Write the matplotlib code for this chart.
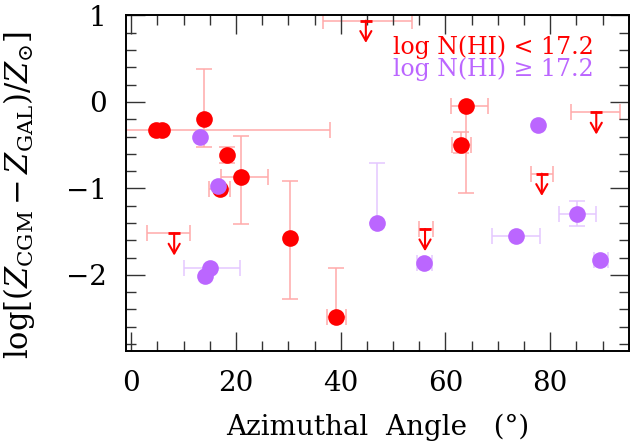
import numpy as np
import matplotlib
matplotlib.use("Agg")
import matplotlib.pyplot as plt

nan = np.nan

# log N(HI) < 17.2, detections
rojo_x = [4.7, 5.8, 13.9, 18.2, 21.0, 17.0, 30.4, 39.1, 63.9, 63.0]
rojo_y = [-0.33, -0.33, -0.20, -0.61, -0.87, -1.01, -1.57, -2.49, -0.05, -0.50]
rojo_x_lo = [nan, -2.0, nan, nan, 17.2, 14.9, nan, 37.4, 61.0, 61.2]
rojo_x_hi = [nan, 38.0, nan, nan, 26.2, 18.8, nan, 41.0, 68.1, 64.8]
rojo_y_lo = [nan, nan, -0.52, -0.71, -1.41, nan, -2.28, -2.49, -1.05, -0.585]
rojo_y_hi = [nan, nan, 0.38, -0.52, -0.39, nan, -0.915, -1.92, -0.05, -0.343]

# log N(HI) < 17.2, upper limits
lim_x = [8.2, 44.8, 56.1, 78.4, 88.8]
lim_y = [-1.52, 0.94, -1.47, -0.83, -0.12]
lim_x_lo = [3.1, 36.7, 54.9, 76.4, 83.9]
lim_x_hi = [11.2, 53.7, 57.7, 80.5, 93.4]

# log N(HI) >= 17.2
lila_x = [13.2, 16.6, 14.0, 15.0, 46.9, 55.9, 77.6, 73.4, 85.1, 89.6]
lila_y = [-0.40, -0.97, -2.01, -1.92, -1.40, -1.86, -0.27, -1.55, -1.30, -1.83]
lila_x_lo = [nan, nan, nan, 10.0, nan, 54.6, nan, 68.8, 81.7, 88.3]
lila_x_hi = [nan, nan, nan, 20.8, nan, 57.5, nan, 78.0, 88.8, 91.0]
lila_y_lo = [nan, nan, nan, nan, -1.40, nan, nan, nan, -1.44, nan]
lila_y_hi = [nan, nan, nan, nan, -0.71, nan, nan, nan, -1.14, nan]

ROJO = '#ff0000'
ROJO_CLARO = '#ffaaaa'
LILA = '#bb66ff'
LILA_CLARO = '#e4c8ff'


def errores(v, lo, hi):
    v = np.array(v, dtype=float)
    return np.vstack([v - np.array(lo, dtype=float), np.array(hi, dtype=float) - v])


plt.rcParams['font.family'] = 'DejaVu Serif'
plt.rcParams['mathtext.fontset'] = 'dejavuserif'
plt.rcParams['axes.unicode_minus'] = True

fig = plt.figure(figsize=(6.3, 4.42), dpi=100)
ax = fig.add_axes([0.200, 0.206, 0.798, 0.759])

estilo_err = dict(fmt='none', capsize=6, elinewidth=1.1, capthick=1.1, zorder=1)

ax.errorbar(rojo_x, rojo_y, xerr=errores(rojo_x, rojo_x_lo, rojo_x_hi),
            yerr=errores(rojo_y, rojo_y_lo, rojo_y_hi), ecolor=ROJO_CLARO, **estilo_err)
ax.errorbar(lim_x, lim_y, xerr=errores(lim_x, lim_x_lo, lim_x_hi),
            ecolor=ROJO_CLARO, **estilo_err)
ax.errorbar(lila_x, lila_y, xerr=errores(lila_x, lila_x_lo, lila_x_hi),
            yerr=errores(lila_y, lila_y_lo, lila_y_hi), ecolor=LILA_CLARO, **estilo_err)

ax.plot(rojo_x, rojo_y, 'o', ms=12, color=ROJO, mec='none', zorder=3)
ax.plot(lila_x, lila_y, 'o', ms=12, color=LILA, mec='none', zorder=4)

# limites superiores: barrita + flecha hacia abajo
ax.plot(lim_x, lim_y, '_', ms=9, mew=2, color=ROJO, zorder=3)
for xx, yy in zip(lim_x, lim_y):
    ax.annotate('', xy=(xx, yy), xycoords='data', xytext=(0, -16), textcoords='offset points',
                arrowprops=dict(arrowstyle='<-,head_length=0.7,head_width=0.4',
                                color=ROJO, lw=1.5, shrinkA=0, shrinkB=0), zorder=3)

ax.set_xlim(-1, 95)
ax.set_ylim(-2.88, 1.0)
ax.set_xticks([0, 20, 40, 60, 80])
ax.set_xticks(np.arange(0, 96, 5), minor=True)
ax.set_yticks([-2, -1, 0, 1])
ax.set_yticks(np.arange(-2.8, 1.01, 0.2), minor=True)
ax.tick_params(which='both', direction='in', top=True, right=True, width=1, colors='#333333',
               labelcolor='black', labelsize=20)
ax.tick_params(which='major', length=14)
ax.tick_params(axis='x', which='major', pad=14)
ax.tick_params(axis='y', which='major', pad=14)
ax.tick_params(which='minor', length=7)
for s in ax.spines.values():
    s.set_linewidth(1.4)

ax.set_xlabel('Azimuthal  Angle   (°)', fontsize=20, labelpad=12)
ax.set_ylabel(r'$\log[(Z_{\rm CGM}-Z_{\rm GAL})/Z_{\odot}]$', fontsize=22)
ax.yaxis.set_label_coords(-0.178, 0.465)

ax.text(0.93, 0.906, 'log N(HI) < 17.2', color=ROJO, fontsize=17, ha='right', va='center',
        transform=ax.transAxes)
ax.text(0.93, 0.841, 'log N(HI) ≥ 17.2', color=LILA, fontsize=17, ha='right', va='center',
        transform=ax.transAxes)

fig.savefig('out.png', dpi=100)
